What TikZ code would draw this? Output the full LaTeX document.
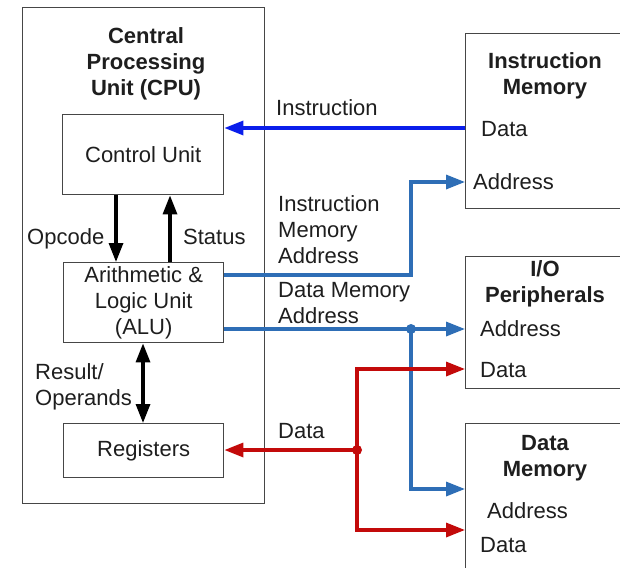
\documentclass[tikz,border=0pt]{standalone}
\usepackage{fontspec}
\setmainfont{Liberation Sans}
\usetikzlibrary{arrows.meta}
\definecolor{ibl}{RGB}{10,30,235}
\definecolor{sbl}{RGB}{46,110,182}
\definecolor{drd}{RGB}{195,10,10}
\definecolor{edgec}{RGB}{70,70,70}
\definecolor{txt}{RGB}{30,30,30}
\begin{document}
\begin{tikzpicture}[x=1pt,y=-1pt,
  box/.style={draw=edgec, line width=1.4pt, inner sep=0pt, text=txt, align=center, font=\fontsize{22}{26}\selectfont},
  lbl/.style={inner sep=0pt, anchor=base west, text=txt, font=\fontsize{22}{26}\selectfont},
  mlbl/.style={inner sep=0pt, anchor=north west, align=left, text=txt, font=\fontsize{22}{26}\selectfont},
  ttl/.style={inner sep=0pt, anchor=north, align=center, text=txt, font=\fontsize{22}{26}\selectfont\bfseries},
  wire/.style={line width=3.3pt, -{Triangle[length=19pt,width=14pt]}},
  barrow/.style={line width=3.3pt, black, -{Triangle[length=19pt,width=14pt]}},
  bbarrow/.style={line width=3.3pt, black, {Triangle[length=19pt,width=14pt]}-{Triangle[length=19pt,width=14pt]}}
]
\useasboundingbox (0,0) rectangle (620,567);
\clip (0,0) rectangle (620,567);
\fill[white] (0,0) rectangle (620,567);

% CPU
\node[box, anchor=north west, minimum width=242pt, minimum height=496pt] (cpu) at (22,7) {};
\node[ttl] (cputtl) at (146,27) {Central\\Processing\\Unit (CPU)};
\node[box, anchor=north west, minimum width=161pt, minimum height=80pt] (cu) at (62,114) {Control Unit};
\node[box, anchor=north west, minimum width=160pt, minimum height=80pt] (alu) at (63,262) {Arithmetic \&\\Logic Unit\\(ALU)};
\node[box, anchor=north west, minimum width=160pt, minimum height=54pt] (reg) at (63,423) {Registers};

% right boxes
\node[box, anchor=north west, minimum width=200pt, minimum height=175pt] (im) at (465,33) {};
\node[ttl] (imttl) at (545,52) {Instruction\\Memory};
\node[lbl] (imdl) at (481,136) {Data};
\node[lbl] (imal) at (473,189) {Address};

\node[box, anchor=north west, minimum width=200pt, minimum height=132pt] (io) at (465,256) {};
\node[ttl] (iottl) at (545,260) {I/O\\Peripherals};
\node[lbl] (ioal) at (480,336) {Address};
\node[lbl] (iodl) at (480,377) {Data};

\node[box, anchor=north west, minimum width=200pt, minimum height=200pt] (dm) at (465,423) {};
\node[ttl] (dmttl) at (545,435) {Data\\Memory};
\node[lbl] (dmal) at (487,518) {Address};
\node[lbl] (dmdl) at (480,552) {Data};

% labels
\node[lbl] (linstr) at (276,115) {Instruction};
\node[mlbl] (lima) at (278,195) {Instruction\\Memory\\Address};
\node[mlbl] (ldma) at (278,282) {Data Memory\\Address};
\node[lbl] (ldata) at (278,438) {Data};
\node[lbl] (lop) at (27,244) {Opcode};
\node[lbl] (lst) at (183,244) {Status};
\node[mlbl] (lres) at (35,363) {Result/\\Operands};

% ports
\coordinate (imD) at (465,128);
\coordinate (imA) at (465,182);
\coordinate (ioA) at (465,329);
\coordinate (ioD) at (465,369);
\coordinate (dmA) at (465,489);
\coordinate (dmD) at (465,530);
\coordinate (aluI) at (alu.east |- 0,275);
\coordinate (aluD) at (alu.east |- 0,329);
\coordinate (j1) at (411,329);
\coordinate (j2) at (357,450);

% connectors
\draw[wire, ibl] (imD) -- (cu.east |- imD);
\draw[wire, sbl] (aluI) -- (j1 |- aluI) |- (imA);
\draw[wire, sbl] (aluD) -- (ioA);
\draw[wire, sbl] (j1) |- (dmA);
\fill[sbl] (j1) circle (5pt);
\draw[wire, drd] (j2) -- (reg.east |- j2);
\draw[wire, drd] (j2) |- (ioD);
\draw[wire, drd] (j2) |- (dmD);
\fill[drd] (j2) circle (5pt);

\draw[barrow] (cu.south -| 116,0) -- (alu.north -| 116,0);
\draw[barrow] (alu.north -| 170,0) -- (cu.south -| 170,0);
\draw[bbarrow] (alu.south -| 143,0) -- (reg.north -| 143,0);
\end{tikzpicture}
\end{document}
